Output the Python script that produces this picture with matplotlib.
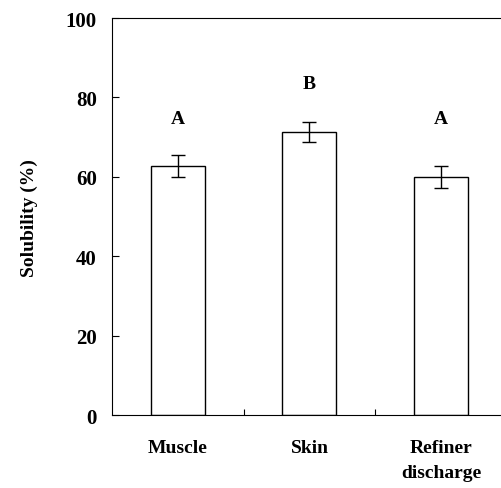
import matplotlib
matplotlib.use("Agg")
import matplotlib.pyplot as plt

categories = ["Muscle", "Skin", "Refiner\ndischarge"]
values = [62.8, 71.4, 59.9]
errors = [2.8, 2.5, 2.8]
letters = ["A", "B", "A"]
letter_y = [74.6, 83.4, 74.6]
yticks = [0, 20, 40, 60, 80, 100]

plt.rcParams['font.family'] = ['Liberation Serif', 'DejaVu Serif']
fig = plt.figure(figsize=(5.02, 4.89), dpi=100)
ax = fig.add_axes([0.223, 0.149, 0.787, 0.812])

x = list(range(len(categories)))
ax.bar(x, values, width=0.41, color='white', edgecolor='black', linewidth=1.0,
       yerr=errors, capsize=5, error_kw=dict(elinewidth=1.0, capthick=1.0, ecolor='black'))
for xi, lt, ly in zip(x, letters, letter_y):
    ax.text(xi, ly, lt, ha='center', va='center', fontsize=14, fontweight='bold')

ax.set_xlim(-0.5, 2.5)
ax.set_ylim(0, 100)
ax.set_yticks(yticks)
ax.set_yticklabels([str(v) for v in yticks], fontsize=15, fontweight='bold')
ax.tick_params(axis='y', direction='in', length=5, pad=11, width=0.8)
ax.set_xticks(x)
ax.set_xticklabels(categories, fontsize=14, fontweight='bold', va='top', linespacing=1.65)
ax.tick_params(axis='x', which='major', length=0, pad=17)
ax.set_xticks([0.5, 1.5], minor=True)
ax.tick_params(axis='x', which='minor', direction='in', length=4.5, width=0.8)
ax.set_ylabel("Solubility (%)", fontsize=14, fontweight='bold', labelpad=20)
for s in ax.spines.values():
    s.set_linewidth(0.8)
fig.savefig("out.png", dpi=100)
